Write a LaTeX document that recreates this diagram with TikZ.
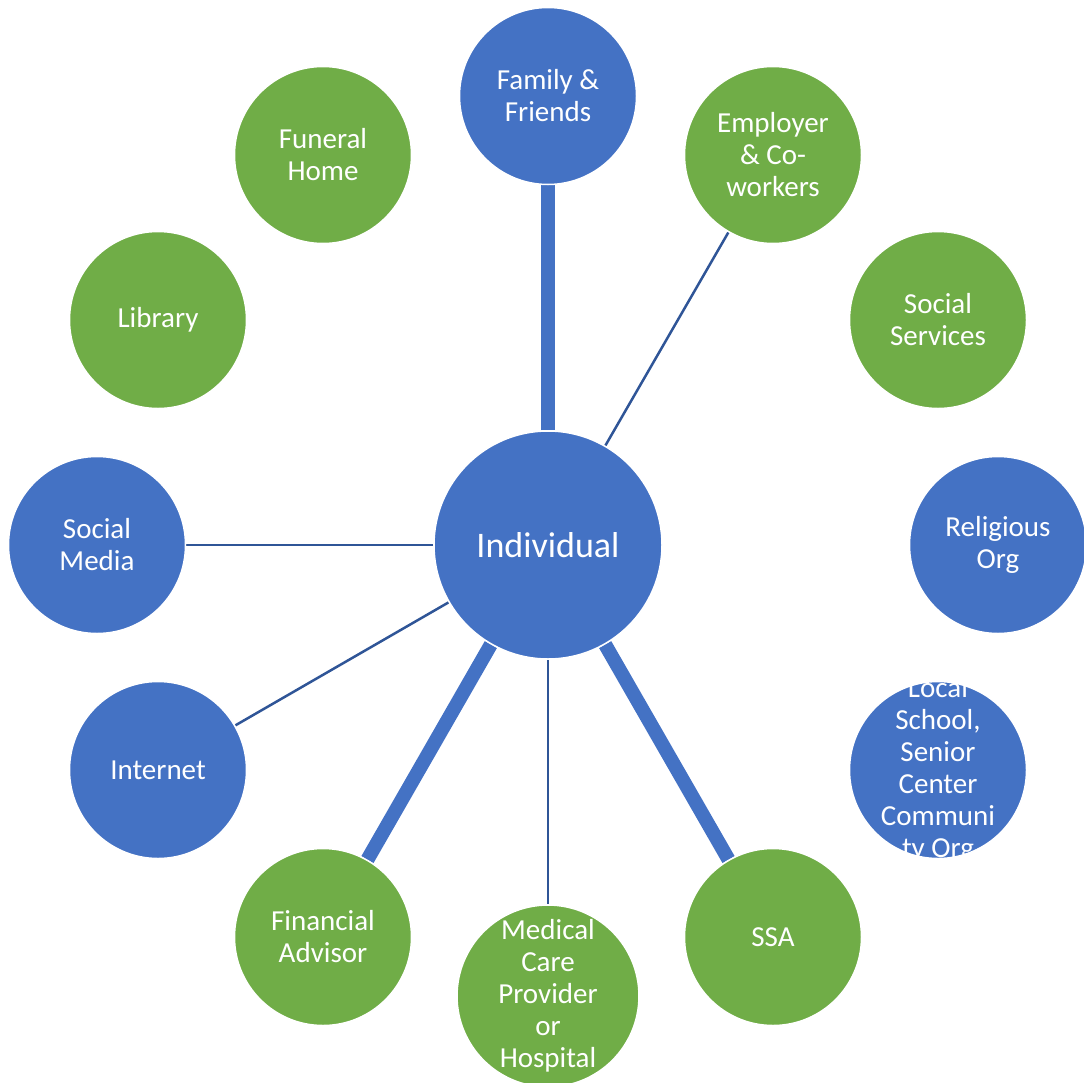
\documentclass[tikz,border=0pt]{standalone}
\usepackage{fontspec}
\setmainfont{Carlito}
\usetikzlibrary{backgrounds}
\definecolor{hubblue}{HTML}{4472C4}
\definecolor{hubgreen}{HTML}{70AD47}
\definecolor{linkdark}{HTML}{2F5597}
\begin{document}
\begin{tikzpicture}[x=1pt,y=-1pt,
  bubble/.style={circle,minimum size=177pt,inner sep=0pt,draw=white,line width=1.5pt,
    text=white,align=center,font=\fontsize{29}{32}\selectfont},
  bluebub/.style={bubble,fill=hubblue},
  greenbub/.style={bubble,fill=hubgreen},
  strong/.style={draw=hubblue,line width=14pt},
  weak/.style={draw=linkdark,line width=2.5pt}]
\useasboundingbox (0,0) rectangle (1084,1082);
\clip (0,0) rectangle (1084,1082);

% hub
\node[bluebub,minimum size=228pt,font=\fontsize{36}{40}\selectfont] (ind) at (548,545) {Individual};

% ring of contacts
\node[bluebub]  (fam) at (548,96)  {Family \&\\Friends};
\node[greenbub] (emp) at (773,155) {Employer\\\& Co-\\workers};
\node[greenbub] (soc) at (938,320) {Social\\Services};
\node[bluebub]  (rel) at (998,545) {Religious\\Org};
\node[bluebub]  (loc) at (938,770) {};
\node[greenbub] (ssa) at (773,937) {SSA};
\node[greenbub] (med) at (548,996) {Medical\\Care\\Provider\\or\\Hospital};
\node[greenbub] (fin) at (323,937) {Financial\\Advisor};
\node[bluebub]  (net) at (158,770) {Internet};
\node[bluebub]  (sm)  at (97,545)  {Social\\Media};
\node[greenbub] (lib) at (158,320) {Library};
\node[greenbub] (fun) at (323,155) {Funeral\\Home};

% overflowing label, cut to the bubble's box
\begin{scope}
  \clip (850,682) rectangle (1027,858);
  \node[text=white,align=center,font=\fontsize{29}{32}\selectfont] at (loc.center)
    {Local\\School,\\Senior\\Center\\Communi\\ty Org};
\end{scope}

% connectors
\begin{scope}[on background layer]
  \draw[strong] (ind) -- (fam);
  \draw[strong] (ind) -- (fin);
  \draw[strong] (ind) -- (ssa);
  \draw[weak] (ind) -- (emp);
  \draw[weak] (ind) -- (sm);
  \draw[weak] (ind) -- (net);
  \draw[weak] (ind) -- (med);
\end{scope}
\end{tikzpicture}
\end{document}
